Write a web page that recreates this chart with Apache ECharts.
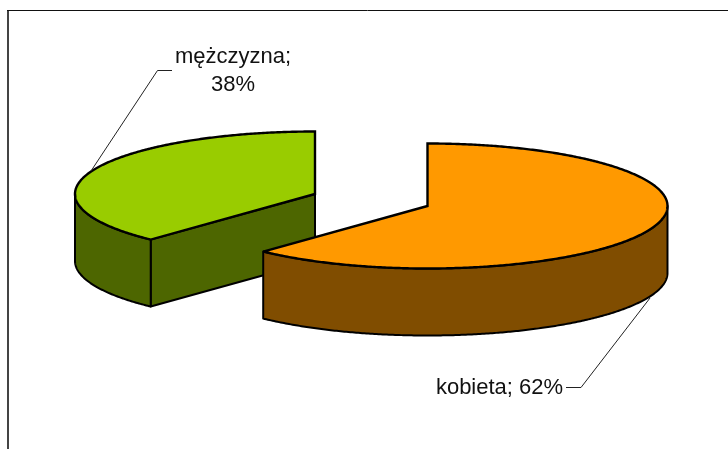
<!DOCTYPE html>
<html><head><meta charset="utf-8">
<style>html,body{margin:0;padding:0;background:#fff}#c{width:728px;height:449px}</style>
<script src="https://cdn.jsdelivr.net/npm/echarts@6/dist/echarts.min.js"></script>
</head><body><div id="c"></div>
<script>
const categories = ['kobieta', 'mężczyzna'];
const shares = [62, 38];
const topColors = ['#FF9900', '#99CC00'];
const sideColors = ['#804D00', '#4D6600'];

// pseudo-3D geometry of each slice: pie centre, radii, depth
const centres = [[427.5, 206], [315, 194]];
const RX = 240, RY = 62.5, DEPTH = 67;
const labelFont = '22px "Liberation Sans", Arial, sans-serif';
const labels = [
  {x: 499.5, y: 388, text: 'kobieta; 62%', leader: [[650, 298], [581, 387.5], [566, 387.5]]},
  {x: 233, y: 71, text: 'mężczyzna;\n38%', leader: [[91, 171], [157.5, 70.5], [172, 70.5]]}
];

const starts = [];
shares.reduce((acc, v, i) => { starts[i] = acc; return acc + v; }, 0);
const total = shares.reduce((a, b) => a + b, 0);

function pt(c, deg, dy) {
  const r = deg * Math.PI / 180;
  return [c[0] + RX * Math.sin(r), c[1] - RY * Math.cos(r) + (dy || 0)];
}
function arc(c, a0, a1, dy) {
  const out = [], n = Math.max(2, Math.ceil(Math.abs(a1 - a0) * 2));
  for (let k = 0; k <= n; k++) out.push(pt(c, a0 + (a1 - a0) * k / n, dy));
  return out;
}
const black = '#000';
function renderItem(params, api) {
  const i = api.value(0);
  const c = centres[i];
  const a0 = starts[i] / total * 360, a1 = (starts[i] + api.value(1)) / total * 360;
  const children = [];
  const side = {fill: sideColors[i], stroke: black, lineWidth: 2, lineJoin: 'round'};
  // cut wall visible on the slice that ends at twelve o'clock
  if (a1 >= 360) {
    const p = pt(c, a0);
    children.push({type: 'polygon', shape: {points: [c, p, [p[0], p[1] + DEPTH], [c[0], c[1] + DEPTH]]}, style: side});
  }
  // outer wall: only the front half of the ellipse (90..270 degrees)
  const w0 = Math.max(a0, 90), w1 = Math.min(a1, 270);
  if (w1 > w0) {
    children.push({type: 'polygon', shape: {points: arc(c, w0, w1, 0).concat(arc(c, w1, w0, DEPTH))}, style: side});
  }
  // top face
  children.push({type: 'polygon', shape: {points: [c].concat(arc(c, a0, a1, 0))},
    style: {fill: topColors[i], stroke: black, lineWidth: 2.4, lineJoin: 'miter', miterLimit: 2}});
  // leader and label
  const L = labels[i];
  children.push({type: 'polyline', shape: {points: L.leader}, style: {fill: null, stroke: '#222', lineWidth: 1}});
  children.push({type: 'text', style: {x: L.x, y: L.y, text: L.text, fill: '#111', font: labelFont, align: 'center', verticalAlign: 'middle', lineHeight: 28}});
  return {type: 'group', children};
}
const chart = echarts.init(document.getElementById('c'), null, {renderer: 'canvas'});
chart.setOption({
  animation: false,
  backgroundColor: '#fff',
  graphic: [
    {type: 'line', silent: true, shape: {x1: 8, y1: 10, x2: 8, y2: 449}, style: {stroke: '#444', lineWidth: 2}},
    {type: 'line', silent: true, shape: {x1: 7, y1: 10.5, x2: 728, y2: 10.5}, style: {stroke: '#111', lineWidth: 1}}
  ],
  series: [{
    type: 'custom',
    coordinateSystem: 'none',
    renderItem,
    data: categories.map((n, i) => ({name: n, value: [i, shares[i]]})).reverse()
  }]
});
</script></body></html>
